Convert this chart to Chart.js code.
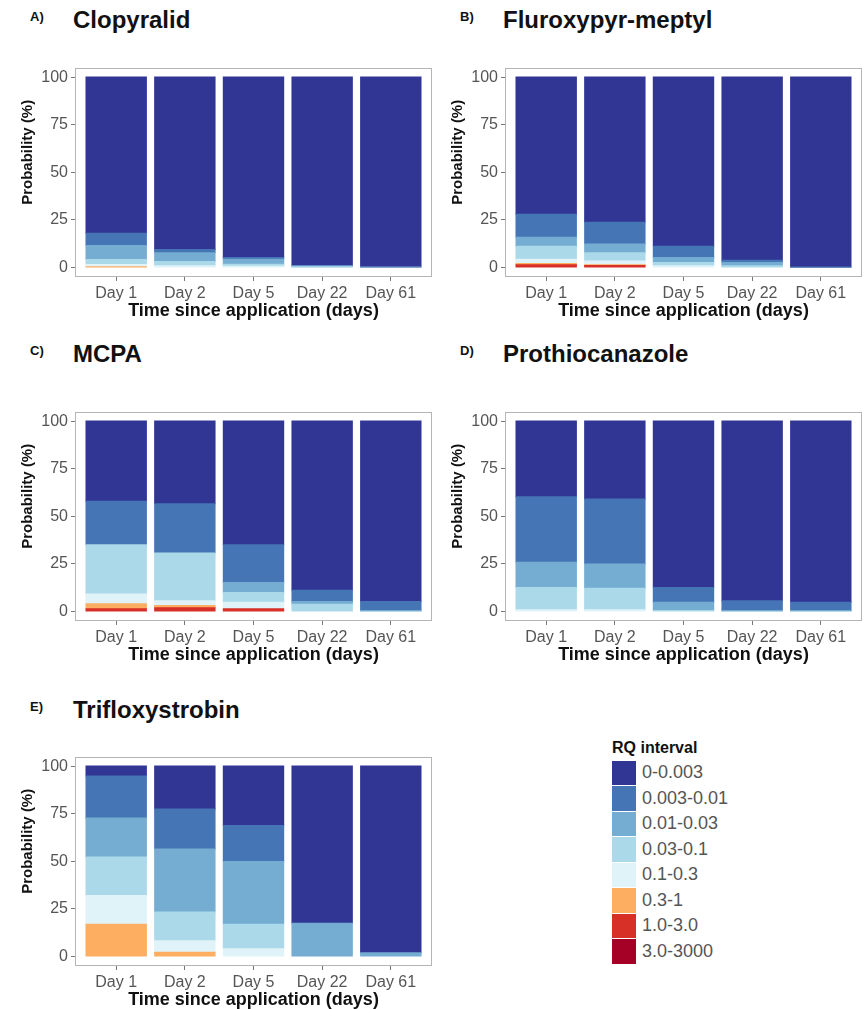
<!DOCTYPE html>
<html>
<head>
<meta charset="utf-8">
<script src="https://cdn.jsdelivr.net/npm/chart.js@4"></script>
<style>
  body { margin: 0; width: 865px; height: 1009px; position: relative; background: #fff; overflow: hidden; font-family: "Liberation Sans", Arial, sans-serif; }
  canvas { position: absolute; }
  .letter { position: absolute; font-size: 13px; font-weight: bold; line-height: 13px; color: #111; }
  .name { position: absolute; font-size: 24px; font-weight: bold; line-height: 24px; color: #111; }
  #legend { position: absolute; left: 612px; top: 739px; }
  #legend .ttl { font-size: 16px; font-weight: bold; color: #111; margin-bottom: 3px; }
  #legend .row { display: flex; align-items: center; height: 25.5px; }
  #legend .sw { width: 24px; height: 24.5px; margin-right: 6px; }
  #legend .lab { font-size: 18px; color: #555; }
</style>
</head>
<body>
<div id="legend"></div>
<script>
const days = ["Day 1", "Day 2", "Day 5", "Day 22", "Day 61"];
const yTicks = [0, 25, 50, 75, 100];
const rqLabels = ["0-0.003", "0.003-0.01", "0.01-0.03", "0.03-0.1", "0.1-0.3", "0.3-1", "1.0-3.0", "3.0-3000"];
const rqColors = ["#313695", "#4575b4", "#74add1", "#abd9e9", "#e0f3f8", "#fdae61", "#d73027", "#a50026"];

// one row per RQ interval, one value per day (%)
const clopyralid = [
  [82.0, 90.5, 94.8, 99.1, 99.7],
  [6.5, 1.7, 0.9, 0, 0],
  [7.3, 4.7, 2.6, 0.5, 0.3],
  [2.6, 2.2, 1.0, 0.4, 0],
  [1.2, 0.9, 0.7, 0, 0],
  [0.4, 0, 0, 0, 0],
  [0, 0, 0, 0, 0],
  [0, 0, 0, 0, 0]
];
const fluroxypyr = [
  [72.1, 76.2, 88.8, 96.2, 99.7],
  [12.0, 11.4, 6.0, 1.2, 0.3],
  [4.7, 4.6, 2.6, 1.7, 0],
  [6.9, 4.4, 1.7, 0.9, 0],
  [2.2, 2.0, 0.9, 0, 0],
  [0.7, 0.4, 0, 0, 0],
  [1.4, 1.0, 0, 0, 0],
  [0, 0, 0, 0, 0]
];
const mcpa = [
  [42.1, 43.4, 65.0, 88.8, 94.7],
  [22.9, 25.9, 19.8, 5.9, 4.8],
  [0, 0, 5.2, 1.5, 0.5],
  [25.8, 25.0, 5.2, 3.8, 0],
  [5.2, 2.6, 3.4, 0, 0],
  [2.6, 1.2, 0, 0, 0],
  [1.4, 1.9, 1.4, 0, 0],
  [0, 0, 0, 0, 0]
];
const prothioconazole = [
  [39.7, 40.9, 87.4, 94.3, 95.2],
  [34.4, 34.1, 7.8, 5.2, 4.3],
  [13.3, 12.8, 4.3, 0.5, 0.5],
  [11.7, 11.3, 0.5, 0, 0],
  [0.9, 0.9, 0, 0, 0],
  [0, 0, 0, 0, 0],
  [0, 0, 0, 0, 0],
  [0, 0, 0, 0, 0]
];
const trifloxystrobin = [
  [5.2, 22.5, 31.2, 82.6, 98.1],
  [22.0, 21.0, 18.9, 0, 0],
  [20.6, 33.1, 33.0, 17.4, 1.9],
  [20.2, 15.1, 12.9, 0, 0],
  [15.1, 6.1, 4.0, 0, 0],
  [16.9, 2.2, 0, 0, 0],
  [0, 0, 0, 0, 0],
  [0, 0, 0, 0, 0]
];

const panels = [
  { letter: "A)", name: "Clopyralid", values: clopyralid, x: 0, y: 55, titleY: 28 },
  { letter: "B)", name: "Fluroxypyr-meptyl", values: fluroxypyr, x: 430, y: 55, titleY: 28 },
  { letter: "C)", name: "MCPA", values: mcpa, x: 0, y: 399, titleY: 362 },
  { letter: "D)", name: "Prothiocanazole", values: prothioconazole, x: 430, y: 399, titleY: 362 },
  { letter: "E)", name: "Trifloxystrobin", values: trifloxystrobin, x: 0, y: 744, titleY: 718 }
];

Chart.defaults.font.family = '"Liberation Sans", Arial, sans-serif';

// grey box round the panel and the y title (sits a bit above centre, as in the original)
const panelBorder = {
  id: "panelBorder",
  afterDatasetsDraw(chart) {
    const { ctx, chartArea: a } = chart;
    ctx.save();
    ctx.strokeStyle = "#b5b5b5";
    ctx.lineWidth = 1;
    ctx.strokeRect(Math.round(a.left) + 0.5, Math.round(a.top) + 0.5, Math.round(a.width) - 1, Math.round(a.height) - 1);
    ctx.translate(27.5, (a.top + a.bottom) / 2 - 20);
    ctx.rotate(-Math.PI / 2);
    ctx.font = 'bold 15px "Liberation Sans", Arial, sans-serif';
    ctx.fillStyle = "#111";
    ctx.textAlign = "center";
    ctx.textBaseline = "middle";
    ctx.fillText("Probability (%)", 0, 0);
    ctx.restore();
  }
};

function addText(cls, text, left, top) {
  const d = document.createElement("div");
  d.className = cls;
  d.textContent = text;
  d.style.left = left + "px";
  d.style.top = top + "px";
  document.body.appendChild(d);
}

panels.forEach((p) => {
  addText("letter", p.letter, p.x + 30, p.titleY - 7 - 11);
  addText("name", p.name, p.x + 73, p.titleY - 20.3);

  const canvas = document.createElement("canvas");
  canvas.width = 435;
  canvas.height = 267;
  canvas.style.left = p.x + "px";
  canvas.style.top = p.y + "px";
  document.body.appendChild(canvas);

  // empty intervals are skipped so they leave no sliver at the base
  const datasets = rqLabels.map((lab, k) => ({
    label: lab,
    data: p.values[k].map((v, i) => ({ x: i, y: v > 0 ? v : null })),
    backgroundColor: rqColors[k],
    borderWidth: 0,
    inflateAmount: 0.5,
    barPercentage: 0.88,
    categoryPercentage: 1.0
  })).reverse();

  new Chart(canvas.getContext("2d"), {
    type: "bar",
    data: { datasets },
    options: {
      responsive: false,
      animation: false,
      layout: { padding: { top: 9, right: 3, left: 0, bottom: 0 } },
      plugins: { legend: { display: false }, tooltip: { enabled: false } },
      scales: {
        x: {
          type: "linear",
          stacked: true,
          offset: false,
          min: -0.6,
          max: 4.6,
          afterBuildTicks: (s) => { s.ticks = days.map((d, i) => ({ value: i })); },
          afterFit: (s) => { s.height = 45; },
          ticks: { callback: (v) => days[v], color: "#555", font: { size: 16 }, padding: 3, maxRotation: 0, autoSkip: false },
          grid: { offset: false, drawOnChartArea: false, tickLength: 4, color: "#777" },
          border: { display: false },
          title: { display: true, text: "Time since application (days)", color: "#111", font: { size: 18, weight: "bold" }, padding: { top: 0, bottom: 0 } }
        },
        y: {
          stacked: true,
          min: -5,
          max: 105,
          afterBuildTicks: (s) => { s.ticks = yTicks.map((v) => ({ value: v })); },
          afterFit: (s) => { s.width = 75; },
          ticks: { color: "#555", font: { size: 16 }, padding: 3 },
          grid: { drawOnChartArea: false, tickLength: 4, color: "#777" },
          border: { display: false }
        }
      }
    },
    plugins: [panelBorder]
  });
});

const legend = document.getElementById("legend");
const lt = document.createElement("div");
lt.className = "ttl";
lt.textContent = "RQ interval";
legend.appendChild(lt);
rqLabels.forEach((lab, k) => {
  const row = document.createElement("div");
  row.className = "row";
  const sw = document.createElement("div");
  sw.className = "sw";
  sw.style.background = rqColors[k];
  const tx = document.createElement("div");
  tx.className = "lab";
  tx.textContent = lab;
  row.appendChild(sw);
  row.appendChild(tx);
  legend.appendChild(row);
});
</script>
</body>
</html>
